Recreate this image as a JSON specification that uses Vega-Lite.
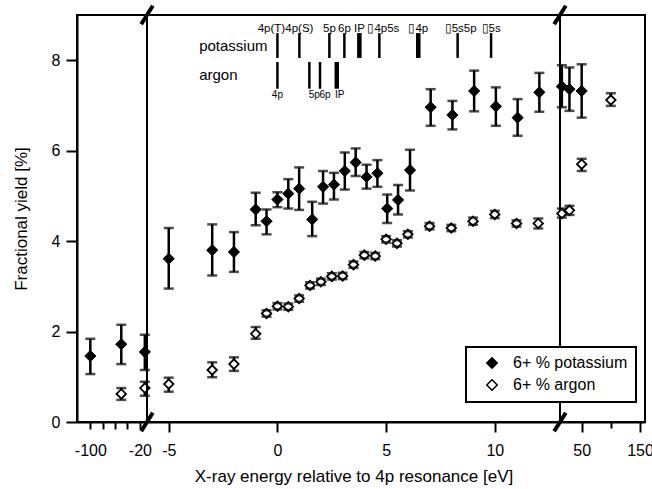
{
  "$schema": "https://vega.github.io/schema/vega-lite/v6.json",
  "background": "white",
  "padding": {"left": 77, "top": 15, "right": 575, "bottom": 474},
  "autosize": {"type": "none"},
  "spacing": 0,
  "bounds": "flush",
  "config": {
    "font": "Liberation Sans",
    "view": {"stroke": "black", "strokeWidth": 2},
    "axis": {"domainColor": "black", "domainWidth": 2, "tickColor": "black", "tickWidth": 2, "labelColor": "black", "titleColor": "black", "labelFont": "Liberation Sans", "titleFont": "Liberation Sans", "labelFontSize": 16, "titleFontSize": 17, "titleFontWeight": "normal", "grid": false, "labelOverlap": false, "labelFlush": false},
    "legend": {"strokeWidth": 2}
  },
  "datasets": {
    "yields": [
      {"series": "6+ % potassium", "energy": -100, "yield": 1.46, "lo": 1.06, "hi": 1.84},
      {"series": "6+ % potassium", "energy": -50, "yield": 1.72, "lo": 1.28, "hi": 2.15},
      {"series": "6+ % potassium", "energy": -12, "yield": 1.55, "lo": 1.15, "hi": 1.93},
      {"series": "6+ % potassium", "energy": -5, "yield": 3.61, "lo": 2.95, "hi": 4.29},
      {"series": "6+ % potassium", "energy": -3, "yield": 3.8, "lo": 3.24, "hi": 4.37},
      {"series": "6+ % potassium", "energy": -2, "yield": 3.76, "lo": 3.32, "hi": 4.2},
      {"series": "6+ % potassium", "energy": -1, "yield": 4.7, "lo": 4.35, "hi": 5.07},
      {"series": "6+ % potassium", "energy": -0.5, "yield": 4.44, "lo": 4.15, "hi": 4.7},
      {"series": "6+ % potassium", "energy": 0, "yield": 4.92, "lo": 4.75, "hi": 5.08},
      {"series": "6+ % potassium", "energy": 0.5, "yield": 5.05, "lo": 4.72, "hi": 5.37},
      {"series": "6+ % potassium", "energy": 1, "yield": 5.16, "lo": 4.69, "hi": 5.63},
      {"series": "6+ % potassium", "energy": 1.6, "yield": 4.48, "lo": 4.11, "hi": 4.87},
      {"series": "6+ % potassium", "energy": 2.1, "yield": 5.2, "lo": 4.83, "hi": 5.55},
      {"series": "6+ % potassium", "energy": 2.6, "yield": 5.25, "lo": 4.92, "hi": 5.51},
      {"series": "6+ % potassium", "energy": 3.1, "yield": 5.55, "lo": 5.14, "hi": 5.96},
      {"series": "6+ % potassium", "energy": 3.6, "yield": 5.74, "lo": 5.44, "hi": 6.05},
      {"series": "6+ % potassium", "energy": 4.1, "yield": 5.42, "lo": 5.16, "hi": 5.69},
      {"series": "6+ % potassium", "energy": 4.6, "yield": 5.5, "lo": 5.2, "hi": 5.79},
      {"series": "6+ % potassium", "energy": 5.05, "yield": 4.72, "lo": 4.4, "hi": 5.03},
      {"series": "6+ % potassium", "energy": 5.55, "yield": 4.91, "lo": 4.59, "hi": 5.24},
      {"series": "6+ % potassium", "energy": 6.1, "yield": 5.57, "lo": 5.12, "hi": 6.02},
      {"series": "6+ % potassium", "energy": 7.05, "yield": 6.96, "lo": 6.55, "hi": 7.36},
      {"series": "6+ % potassium", "energy": 8.05, "yield": 6.79, "lo": 6.47, "hi": 7.1},
      {"series": "6+ % potassium", "energy": 9.05, "yield": 7.32, "lo": 6.87, "hi": 7.77},
      {"series": "6+ % potassium", "energy": 10.05, "yield": 6.98, "lo": 6.55, "hi": 7.4},
      {"series": "6+ % potassium", "energy": 11.05, "yield": 6.73, "lo": 6.33, "hi": 7.14},
      {"series": "6+ % potassium", "energy": 12.05, "yield": 7.29, "lo": 6.86, "hi": 7.72},
      {"series": "6+ % potassium", "energy": 16, "yield": 7.42, "lo": 6.96, "hi": 7.89},
      {"series": "6+ % potassium", "energy": 29, "yield": 7.36, "lo": 6.88, "hi": 7.84},
      {"series": "6+ % potassium", "energy": 50, "yield": 7.32, "lo": 6.73, "hi": 7.91},
      {"series": "6+ % argon", "energy": -50, "yield": 0.62, "lo": 0.49, "hi": 0.75},
      {"series": "6+ % argon", "energy": -12, "yield": 0.75, "lo": 0.58, "hi": 0.89},
      {"series": "6+ % argon", "energy": -5, "yield": 0.84, "lo": 0.67, "hi": 0.98},
      {"series": "6+ % argon", "energy": -3, "yield": 1.15, "lo": 0.99, "hi": 1.32},
      {"series": "6+ % argon", "energy": -2, "yield": 1.28, "lo": 1.13, "hi": 1.43},
      {"series": "6+ % argon", "energy": -1, "yield": 1.95, "lo": 1.84, "hi": 2.1},
      {"series": "6+ % argon", "energy": -0.5, "yield": 2.4, "lo": 2.33, "hi": 2.47},
      {"series": "6+ % argon", "energy": 0, "yield": 2.56, "lo": 2.49, "hi": 2.63},
      {"series": "6+ % argon", "energy": 0.5, "yield": 2.55, "lo": 2.48, "hi": 2.62},
      {"series": "6+ % argon", "energy": 1, "yield": 2.73, "lo": 2.66, "hi": 2.8},
      {"series": "6+ % argon", "energy": 1.5, "yield": 3.02, "lo": 2.95, "hi": 3.09},
      {"series": "6+ % argon", "energy": 2, "yield": 3.1, "lo": 3.03, "hi": 3.17},
      {"series": "6+ % argon", "energy": 2.5, "yield": 3.22, "lo": 3.15, "hi": 3.29},
      {"series": "6+ % argon", "energy": 3, "yield": 3.23, "lo": 3.16, "hi": 3.3},
      {"series": "6+ % argon", "energy": 3.5, "yield": 3.48, "lo": 3.41, "hi": 3.55},
      {"series": "6+ % argon", "energy": 4, "yield": 3.69, "lo": 3.62, "hi": 3.76},
      {"series": "6+ % argon", "energy": 4.5, "yield": 3.67, "lo": 3.6, "hi": 3.74},
      {"series": "6+ % argon", "energy": 5, "yield": 4.04, "lo": 3.97, "hi": 4.11},
      {"series": "6+ % argon", "energy": 5.5, "yield": 3.95, "lo": 3.88, "hi": 4.02},
      {"series": "6+ % argon", "energy": 6, "yield": 4.15, "lo": 4.08, "hi": 4.22},
      {"series": "6+ % argon", "energy": 7, "yield": 4.33, "lo": 4.26, "hi": 4.4},
      {"series": "6+ % argon", "energy": 8, "yield": 4.29, "lo": 4.22, "hi": 4.36},
      {"series": "6+ % argon", "energy": 9, "yield": 4.44, "lo": 4.36, "hi": 4.52},
      {"series": "6+ % argon", "energy": 10, "yield": 4.59, "lo": 4.51, "hi": 4.67},
      {"series": "6+ % argon", "energy": 11, "yield": 4.39, "lo": 4.32, "hi": 4.46},
      {"series": "6+ % argon", "energy": 12, "yield": 4.39, "lo": 4.28, "hi": 4.5},
      {"series": "6+ % argon", "energy": 16, "yield": 4.61, "lo": 4.52, "hi": 4.72},
      {"series": "6+ % argon", "energy": 29, "yield": 4.68, "lo": 4.58, "hi": 4.78},
      {"series": "6+ % argon", "energy": 50, "yield": 5.7, "lo": 5.55, "hi": 5.82},
      {"series": "6+ % argon", "energy": 100, "yield": 7.12, "lo": 6.99, "hi": 7.27}
    ],
    "levels": [
      {"element": "potassium", "level": "4p(T)", "energy": 0, "kind": "line"},
      {"element": "potassium", "level": "4p(S)", "energy": 1.01, "kind": "line"},
      {"element": "potassium", "level": "5p", "energy": 2.39, "kind": "line"},
      {"element": "potassium", "level": "6p", "energy": 3.08, "kind": "line"},
      {"element": "potassium", "level": "IP", "energy": 3.77, "kind": "limit"},
      {"element": "potassium", "level": "▯4p5s", "energy": 4.69, "kind": "line"},
      {"element": "potassium", "level": "▯4p", "energy": 6.48, "kind": "limit"},
      {"element": "potassium", "level": "▯5s5p", "energy": 8.29, "kind": "line"},
      {"element": "potassium", "level": "▯5s", "energy": 9.83, "kind": "line"},
      {"element": "argon", "level": "4p", "energy": 0, "kind": "line"},
      {"element": "argon", "level": "5p", "energy": 1.47, "kind": "line"},
      {"element": "argon", "level": "6p", "energy": 1.96, "kind": "line"},
      {"element": "argon", "level": "IP", "energy": 2.73, "kind": "limit"}
    ],
    "rowlabels": [
      {"label": "potassium", "energy": -3.6, "frac": 8.32},
      {"label": "argon", "energy": -3.6, "frac": 7.68}
    ],
    "breaks": [
      {"energy": -6, "frac": 9},
      {"energy": -6, "frac": 0},
      {"energy": 13, "frac": 9},
      {"energy": 13, "frac": 0}
    ]
  },
  "hconcat": [
    {
      "width": 70,
      "height": 407,
      "data": {"name": "yields"},
      "transform": [{"filter": "datum.energy < -8"}],
      "encoding": {
        "x": {"field": "energy", "type": "quantitative", "scale": {"domain": [-121.5, -8.5], "nice": false, "zero": false},
          "axis": {"values": [-100, -80, -60, -40, -20], "labelExpr": "(datum.value == -100 || datum.value == -20) ? '' + datum.value : ''", "title": null, "tickSize": 7, "labelPadding": 13.5}}
      },
      "layer": [
        {"mark": {"type": "rule", "strokeWidth": 2.5, "color": "black"},
          "encoding": {
            "y": {"field": "lo", "type": "quantitative", "scale": {"domain": [0, 9], "nice": false, "zero": false},
              "axis": {"values": [0, 2, 4, 6, 8], "labelExpr": "'' + datum.value", "tickSize": 11, "labelPadding": 6, "title": "Fractional yield [%]", "titlePadding": 21}},
            "y2": {"field": "hi"}}},
        {"transform": [{"filter": "datum.series == '6+ % potassium'"}],
          "mark": {"type": "point", "shape": "diamond", "filled": true, "stroke": "black", "strokeWidth": 1, "size": 125, "opacity": 1},
          "encoding": {
            "y": {"field": "yield", "type": "quantitative"},
            "fill": {"field": "series", "type": "nominal", "scale": {"domain": ["6+ % potassium", "6+ % argon"], "range": ["black", "white"]},
              "legend": {"title": null, "orient": "none", "legendX": 389, "legendY": 332, "symbolType": "diamond", "symbolSize": 110, "symbolStrokeColor": "black", "symbolStrokeWidth": 1.5, "labelFontSize": 16, "labelFont": "Liberation Sans", "labelColor": "black", "fillColor": "white", "strokeColor": "black", "padding": 8, "rowPadding": 4, "symbolOffset": 10, "labelOffset": 13}}}},
        {"transform": [{"filter": "datum.series == '6+ % argon'"}],
          "mark": {"type": "point", "shape": "diamond", "filled": true, "stroke": "black", "strokeWidth": 1.8, "size": 90, "opacity": 1},
          "encoding": {
            "y": {"field": "yield", "type": "quantitative"},
            "fill": {"field": "series", "type": "nominal"}}},
        {"mark": {"type": "tick", "orient": "horizontal", "size": 10, "thickness": 2.5, "color": "black"},
          "encoding": {"y": {"field": "lo", "type": "quantitative"}}},
        {"mark": {"type": "tick", "orient": "horizontal", "size": 10, "thickness": 2.5, "color": "black"},
          "encoding": {"y": {"field": "hi", "type": "quantitative"}}}
      ]
    },
    {
      "width": 413,
      "height": 407,
      "encoding": {
        "x": {"field": "energy", "type": "quantitative", "scale": {"domain": [-6, 13], "nice": false, "zero": false},
          "axis": {"values": [-5, 0, 5, 10], "labelExpr": "'' + datum.value", "title": "X-ray energy relative to 4p resonance [eV]", "tickSize": 10, "labelPadding": 10.5, "titlePadding": 10}}
      },
      "layer": [
        {"data": {"name": "levels"}, "transform": [{"filter": "datum.element == 'potassium'"}],
          "mark": {"type": "rule", "color": "black"},
          "encoding": {
            "y": {"datum": 8.05, "type": "quantitative", "scale": {"domain": [0, 9], "nice": false, "zero": false}, "axis": null},
            "y2": {"datum": 8.6},
            "strokeWidth": {"field": "kind", "type": "nominal", "scale": {"domain": ["line", "limit"], "range": [2.5, 4.5]}, "legend": null}}},
        {"data": {"name": "levels"}, "transform": [{"filter": "datum.element == 'argon'"}],
          "mark": {"type": "rule", "color": "black"},
          "encoding": {
            "y": {"datum": 7.37, "type": "quantitative"},
            "y2": {"datum": 7.96},
            "strokeWidth": {"field": "kind", "type": "nominal", "scale": {"domain": ["line", "limit"], "range": [2.5, 4.5]}, "legend": null}}},
        {"data": {"name": "levels"}, "transform": [{"filter": "datum.element == 'potassium'"}],
          "mark": {"type": "text", "fontSize": 11.5, "color": "black", "baseline": "middle", "align": "center",
            "dx": {"expr": "datum.level == '4p(T)' ? -6 : (datum.level == '▯4p5s' ? 4 : (datum.level == '▯5s5p' ? 3 : 0))"}},
          "encoding": {"y": {"datum": 8.7, "type": "quantitative"}, "text": {"field": "level"}}},
        {"data": {"name": "levels"}, "transform": [{"filter": "datum.element == 'argon'"}],
          "mark": {"type": "text", "fontSize": 10, "color": "black", "baseline": "middle", "align": "center",
            "dx": {"expr": "(datum.level == '5p' || datum.level == '6p') ? 5 : (datum.level == 'IP' ? 3 : 0)"}},
          "encoding": {"y": {"datum": 7.22, "type": "quantitative"}, "text": {"field": "level"}}},
        {"data": {"name": "rowlabels"},
          "mark": {"type": "text", "fontSize": 15, "color": "black", "baseline": "middle", "align": "left"},
          "encoding": {"y": {"field": "frac", "type": "quantitative"}, "text": {"field": "label", "type": "nominal"}}},
        {"data": {"name": "yields"}, "transform": [{"filter": "datum.energy >= -6 && datum.energy <= 13"}],
          "mark": {"type": "rule", "strokeWidth": 2.5, "color": "black"},
          "encoding": {"y": {"field": "lo", "type": "quantitative"}, "y2": {"field": "hi"}}},
        {"data": {"name": "yields"}, "transform": [{"filter": "datum.energy >= -6 && datum.energy <= 13 && datum.series == '6+ % potassium'"}],
          "mark": {"type": "point", "shape": "diamond", "filled": true, "stroke": "black", "strokeWidth": 1, "size": 125, "opacity": 1},
          "encoding": {
            "y": {"field": "yield", "type": "quantitative"},
            "fill": {"field": "series", "type": "nominal"}}},
        {"data": {"name": "yields"}, "transform": [{"filter": "datum.energy >= -6 && datum.energy <= 13 && datum.series == '6+ % argon'"}],
          "mark": {"type": "point", "shape": "diamond", "filled": true, "stroke": "black", "strokeWidth": 1.8, "size": 90, "opacity": 1},
          "encoding": {
            "y": {"field": "yield", "type": "quantitative"},
            "fill": {"field": "series", "type": "nominal"}}},
        {"data": {"name": "yields"}, "transform": [{"filter": "datum.energy >= -6 && datum.energy <= 13"}],
          "mark": {"type": "tick", "orient": "horizontal", "size": 10, "thickness": 2.5, "color": "black"},
          "encoding": {"y": {"field": "lo", "type": "quantitative"}}},
        {"data": {"name": "yields"}, "transform": [{"filter": "datum.energy >= -6 && datum.energy <= 13"}],
          "mark": {"type": "tick", "orient": "horizontal", "size": 10, "thickness": 2.5, "color": "black"},
          "encoding": {"y": {"field": "hi", "type": "quantitative"}}},
        {"data": {"name": "breaks"},
          "mark": {"type": "point", "shape": "M-0.63,1L0.63,-1", "filled": false, "stroke": "black", "strokeWidth": 4, "size": 340, "opacity": 1, "strokeCap": "butt"},
          "encoding": {"y": {"field": "frac", "type": "quantitative"}}}
      ]
    },
    {
      "width": 85,
      "height": 407,
      "data": {"name": "yields"},
      "transform": [{"filter": "datum.energy > 13"}],
      "encoding": {
        "x": {"field": "energy", "type": "quantitative", "scale": {"domain": [12.8, 158.6], "nice": false, "zero": false},
          "axis": {"values": [50, 100, 150], "labelExpr": "datum.value == 100 ? '' : '' + datum.value", "title": null, "tickSize": {"condition": {"test": "datum.value == 100", "value": 6}, "value": 10}, "labelPadding": 10.5}}
      },
      "layer": [
        {"mark": {"type": "rule", "strokeWidth": 2.5, "color": "black"},
          "encoding": {
            "y": {"field": "lo", "type": "quantitative", "scale": {"domain": [0, 9], "nice": false, "zero": false}, "axis": null},
            "y2": {"field": "hi"}}},
        {"transform": [{"filter": "datum.series == '6+ % potassium'"}],
          "mark": {"type": "point", "shape": "diamond", "filled": true, "stroke": "black", "strokeWidth": 1, "size": 125, "opacity": 1},
          "encoding": {
            "y": {"field": "yield", "type": "quantitative"},
            "fill": {"field": "series", "type": "nominal"}}},
        {"transform": [{"filter": "datum.series == '6+ % argon'"}],
          "mark": {"type": "point", "shape": "diamond", "filled": true, "stroke": "black", "strokeWidth": 1.8, "size": 90, "opacity": 1},
          "encoding": {
            "y": {"field": "yield", "type": "quantitative"},
            "fill": {"field": "series", "type": "nominal"}}},
        {"mark": {"type": "tick", "orient": "horizontal", "size": 10, "thickness": 2.5, "color": "black"},
          "encoding": {"y": {"field": "lo", "type": "quantitative"}}},
        {"mark": {"type": "tick", "orient": "horizontal", "size": 10, "thickness": 2.5, "color": "black"},
          "encoding": {"y": {"field": "hi", "type": "quantitative"}}}
      ]
    }
  ],
  "resolve": {"scale": {"fill": "shared", "strokeWidth": "independent"}, "legend": {"fill": "shared"}}
}
